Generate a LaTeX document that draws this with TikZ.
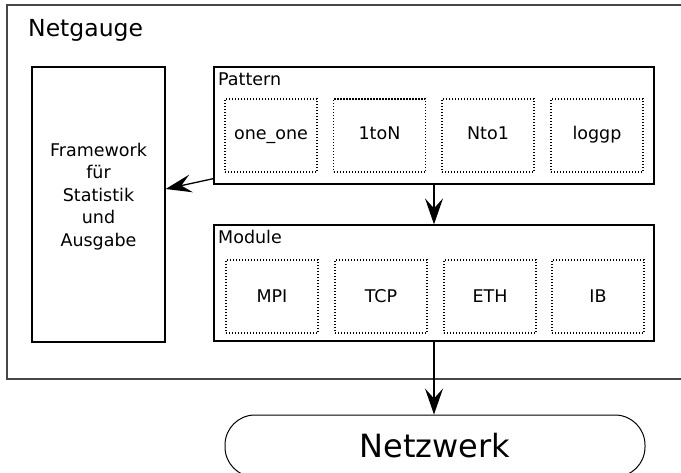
\documentclass[tikz,border=0pt]{standalone}
\usepackage{fontspec}
\setmainfont{DejaVu Sans}
\usetikzlibrary{arrows.meta,calc}

\tikzset{
  box/.style={draw=black, line width=1.3pt, inner sep=0pt},
  inner/.style={draw=black, line width=1.4pt, inner sep=0pt,
    dash pattern=on 1.1pt off 1.9pt,
    minimum width=92pt, minimum height=73pt, font=\fontsize{17.5}{20}\selectfont},
  ptext/.style={text height=9.5pt, text depth=2.5pt},
  mtext/.style={text height=12.5pt, text depth=0pt},
  lbl/.style={font=\fontsize{17.5}{20}\selectfont, inner sep=0pt, anchor=base west},
  flow/.style={line width=1.3pt, -{Stealth[length=26pt, width=18pt, inset=10pt]}},
}

\begin{document}
\begin{tikzpicture}[x=1pt, y=-1pt]
  \useasboundingbox (0,0) rectangle (681,472);

  % outer frame of the tool
  \node[box, draw=black!72, line width=1.5pt, minimum width=700pt, minimum height=374pt, anchor=north west] (ng) at (6,4) {};
  \node[inner sep=0pt, anchor=base west, font=\fontsize{23.5}{28}\selectfont] (ngt) at (28,36) {Netgauge};

  % statistics framework
  \node[box, minimum width=133pt, minimum height=275pt] (fw) at (98.5,204.5) {};
  \node[inner sep=0pt, align=center, font=\fontsize{17.5}{22.5}\selectfont] (fwt) at (98.5,196.6)
    {Framework\\für\\Statistik\\und\\Ausgabe};

  % pattern group
  \node[box, minimum width=440pt, minimum height=117pt] (pat) at (434,125.5) {};
  \node[lbl] (patl) at (218,85) {Pattern};
  \node[inner, ptext] (p1) at (271,135.5) {one\_one};
  \node[inner, ptext] (p2) at (379.5,135.5) {1toN};
  \node[inner, ptext] (p3) at (488,135.5) {Nto1};
  \node[inner, ptext] (p4) at (597,135.5) {loggp};

  % module group
  \node[box, minimum width=440pt, minimum height=116pt] (mod) at (434,283) {};
  \node[lbl] (modl) at (218,243) {Module};
  \node[inner, mtext] (m1) at (272,296.5) {MPI};
  \node[inner, mtext] (m2) at (381,296.5) {TCP};
  \node[inner, mtext] (m3) at (490,296.5) {ETH};
  \node[inner, mtext] (m4) at (598,296.5) {IB};

  % network
  \node[draw=black, line width=1pt, rounded corners=30pt, minimum width=420pt, minimum height=62pt,
        inner sep=0pt, font=\fontsize{32}{36}\selectfont] (net) at (435,446) {Netzwerk};

  % data flow
  \draw[flow] ($(pat.south west)+(0,-6)$) -- ($(fw.east)+(0,-15.5)$);
  \draw[flow] (pat.south) -- (mod.north);
  \draw[flow] (mod.south) -- (mod.south |- net.north);
\end{tikzpicture}
\end{document}
